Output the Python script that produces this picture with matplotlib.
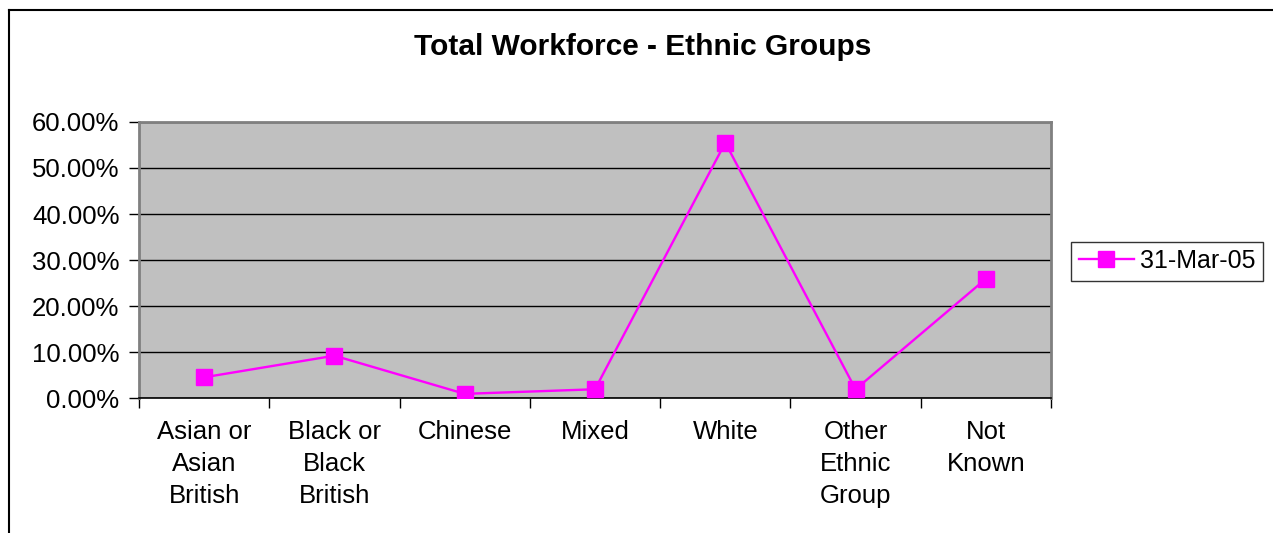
import matplotlib
matplotlib.use("Agg")
import matplotlib.pyplot as plt
from matplotlib.lines import Line2D
from matplotlib.ticker import FuncFormatter, FixedLocator, MultipleLocator

plt.rcParams['font.family'] = ['Liberation Sans', 'DejaVu Sans']

# workforce share by ethnic group, 31 March 2005
groups = ["Asian or\nAsian\nBritish", "Black or\nBlack\nBritish", "Chinese", "Mixed",
          "White", "Other\nEthnic\nGroup", "Not\nKnown"]
share = [0.045, 0.092, 0.009, 0.019, 0.555, 0.019, 0.259]
series_name = "31-Mar-05"

W, H = 1273, 533
fig = plt.figure(figsize=(W / 100, H / 100), dpi=100)
ax = fig.add_axes([139 / W, (H - 398) / H, (1051 - 139) / W, (398 - 122) / H])

ax.set_facecolor("#c0c0c0")
x = list(range(len(groups)))
line, = ax.plot(x, share, color="#ff00ff", lw=1.7, marker="s", ms=11,
                markerfacecolor="#ff00ff", markeredgecolor="#ff00ff", zorder=3)

ax.set_xlim(-0.5, len(groups) - 0.5)
ax.set_ylim(0, 0.6)
ax.yaxis.set_major_locator(MultipleLocator(0.1))
ax.yaxis.set_major_formatter(FuncFormatter(lambda v, p: f"{v * 100:.2f}%"))
ax.grid(axis="y", color="black", lw=1.0, zorder=1)
ax.set_axisbelow(True)

# category labels centred, ticks on the boundaries between categories
ax.set_xticks(x)
ax.set_xticklabels(groups, fontsize=18.5, linespacing=1.42, va="top")
ax.xaxis.set_minor_locator(FixedLocator([i - 0.5 for i in range(len(groups) + 1)]))
ax.tick_params(axis="x", which="major", length=0, pad=16)
ax.tick_params(axis="x", which="minor", length=7, width=1, direction="out", color="black")
ax.tick_params(axis="y", length=7, width=1, direction="out", labelsize=18.5, pad=7)

for side in ["top", "right", "left"]:
    ax.spines[side].set_color("#808080")
    ax.spines[side].set_linewidth(2)
ax.spines["bottom"].set_color("black")
ax.spines["bottom"].set_linewidth(1.2)

fig.text(643 / W, 1 - 47 / H, "Total Workforce - Ethnic Groups", ha="center", va="center",
         fontsize=21.5, fontweight="bold")

leg = fig.legend([line], [series_name], loc="center left",
                 bbox_to_anchor=(1071 / W, 1 - 261 / H), fontsize=18, frameon=True,
                 fancybox=False, edgecolor="black", handlelength=2.2, borderpad=0.3,
                 handletextpad=0.25, borderaxespad=0)
leg.get_frame().set_linewidth(1)

# outer chart border (top and left edges)
fig.add_artist(Line2D([9 / W, 1], [1 - 10 / H, 1 - 10 / H], transform=fig.transFigure,
                      color="black", lw=1.5))
fig.add_artist(Line2D([9 / W, 9 / W], [0, 1 - 10 / H], transform=fig.transFigure,
                      color="black", lw=1.5))

fig.savefig("out.png", dpi=100)
